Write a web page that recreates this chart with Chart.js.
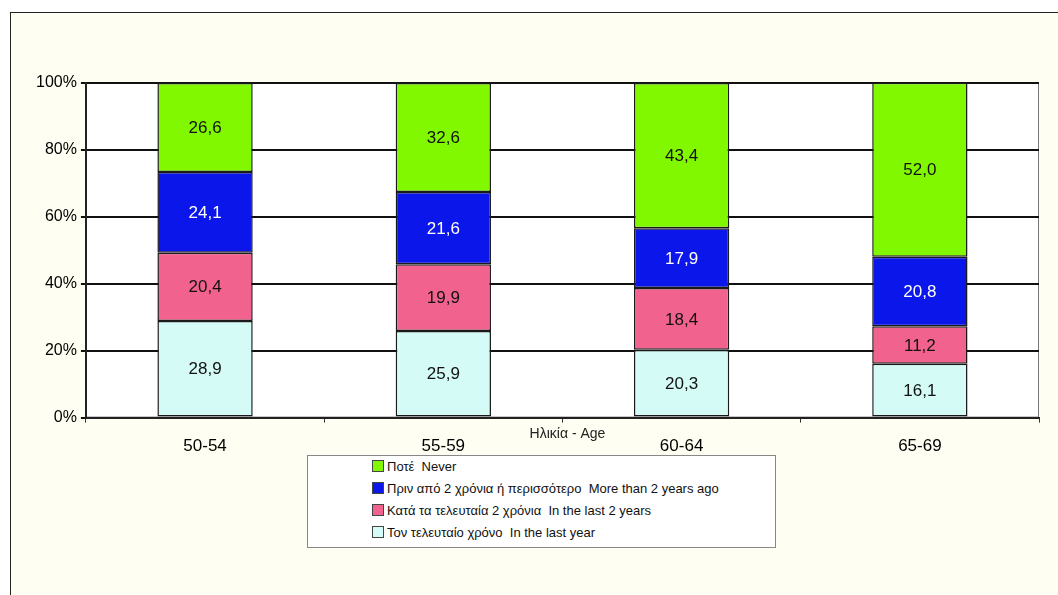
<!DOCTYPE html>
<html lang="el">
<head>
    <meta charset="UTF-8">
    <title>Ηλικία - Age</title>
    <script src="https://cdn.jsdelivr.net/npm/chart.js"></script>
    <style>
        body { margin: 0; background: #fff; width: 1058px; height: 595px; overflow: hidden; position: relative; }
        .frame { position: absolute; left: 10px; top: 12px; width: 1060px; height: 600px; border: 1px solid #222; background: #fffef2; }
        .plot { position: absolute; left: 0; top: 0; width: 1058px; height: 595px; }
        #legend { position: absolute; left: 307px; top: 455px; width: 469px; height: 93px; border: 1px solid #888; background: #fff;
                  font-family: "Liberation Sans", Arial, sans-serif; font-size: 13px; color: #111; box-sizing: border-box; padding-top: 1px; }
        #legend div { height: 22px; line-height: 20px; padding-left: 64px; white-space: pre; }
        #legend span { display: inline-block; width: 10px; height: 10px; border: 1px solid #444; margin-right: 3px; vertical-align: -1px; }
    </style>
</head>
<body>
    <div class="frame"></div>
    <div class="plot"><canvas id="chart"></canvas></div>
    <div id="legend"></div>

    <script>
        // Age groups and answer shares (%), stacked bottom to top
        const ageGroups = ["50-54", "55-59", "60-64", "65-69"];
        const lastYear = [28.9, 25.9, 20.3, 16.1];
        const last2Years = [20.4, 19.9, 18.4, 11.2];
        const moreThan2 = [24.1, 21.6, 17.9, 20.8];
        const never = [26.6, 32.6, 43.4, 52.0];
        const yTicks = [0, 20, 40, 60, 80, 100];

        const FONT = "'Liberation Sans', Arial, sans-serif";

        const series = [
            { label: "Τον τελευταίο χρόνο  In the last year", data: lastYear, color: "#d4fbf6", text: "#111" },
            { label: "Κατά τα τελευταία 2 χρόνια  In the last 2 years", data: last2Years, color: "#f2628f", text: "#111" },
            { label: "Πριν από 2 χρόνια ή περισσότερο  More than 2 years ago", data: moreThan2, color: "#0a16ea", text: "#fff" },
            { label: "Ποτέ  Never", data: never, color: "#82f800", text: "#111" }
        ];

        // white plot area with a thin frame
        const plotBackground = {
            id: "plotBackground",
            beforeDraw(chart) {
                const { ctx, chartArea: a } = chart;
                ctx.save();
                ctx.fillStyle = "#fff";
                ctx.fillRect(a.left, a.top, a.right - a.left, a.bottom - a.top);
                ctx.strokeStyle = "#777";
                ctx.lineWidth = 1;
                ctx.strokeRect(a.left + 0.5, a.top + 0.5, a.right - a.left - 1, a.bottom - a.top - 1);
                ctx.restore();
            }
        };

        // values written in the middle of each segment, decimal comma
        const valueLabels = {
            id: "valueLabels",
            afterDatasetsDraw(chart) {
                const ctx = chart.ctx;
                ctx.save();
                ctx.font = "17px " + FONT;
                ctx.textAlign = "center";
                ctx.textBaseline = "middle";
                chart.data.datasets.forEach((ds, i) => {
                    chart.getDatasetMeta(i).data.forEach((bar, j) => {
                        const mid = (bar.y + bar.base) / 2;
                        ctx.fillStyle = series[i].text;
                        ctx.fillText(ds.data[j].toFixed(1).replace(".", ","), bar.x, mid + 1);
                    });
                });
                ctx.restore();
            }
        };

        // axis title sits just under the axis, between the category labels
        const axisTitle = {
            id: "axisTitle",
            afterDraw(chart) {
                const ctx = chart.ctx;
                const a = chart.chartArea;
                ctx.save();
                ctx.font = "14px " + FONT;
                ctx.fillStyle = "#222";
                ctx.textAlign = "center";
                ctx.textBaseline = "middle";
                ctx.fillText("Ηλικία - Age", (a.left + a.right) / 2 + 5, a.bottom + 17);
                ctx.restore();
            }
        };

        const chart = new Chart(document.getElementById("chart"), {
            type: "bar",
            data: {
                labels: ageGroups,
                datasets: series.map(s => ({
                    label: s.label,
                    data: s.data,
                    backgroundColor: s.color,
                    borderColor: "#1a1a1a",
                    borderWidth: 1.5,
                    borderSkipped: false,
                    barPercentage: 0.4,
                    categoryPercentage: 1
                }))
            },
            options: {
                responsive: true,
                maintainAspectRatio: false,
                animation: false,
                layout: { padding: { left: 32, right: 19, top: 83, bottom: 124 } },
                plugins: { legend: { display: false }, tooltip: { enabled: false } },
                scales: {
                    x: {
                        stacked: true,
                        grid: { display: true, drawOnChartArea: false, color: "#333", tickLength: 5, offset: true },
                        border: { color: "#222", width: 2 },
                        ticks: { color: "#000", font: { family: FONT, size: 17 }, padding: 14 }
                    },
                    y: {
                        stacked: true,
                        min: 0,
                        max: 100,
                        afterBuildTicks: axis => { axis.ticks = yTicks.map(v => ({ value: v })); },
                        grid: { color: "#111", lineWidth: 2, tickLength: 5 },
                        border: { color: "#222", width: 2 },
                        ticks: { color: "#000", font: { family: FONT, size: 16 }, padding: 4, callback: v => v + "%" }
                    }
                }
            },
            plugins: [plotBackground, valueLabels, axisTitle]
        });

        // legend box, top series first
        const legend = document.getElementById("legend");
        series.slice().reverse().forEach(s => {
            const row = document.createElement("div");
            const box = document.createElement("span");
            box.style.background = s.color;
            row.appendChild(box);
            row.appendChild(document.createTextNode(s.label));
            legend.appendChild(row);
        });
    </script>
</body>
</html>
